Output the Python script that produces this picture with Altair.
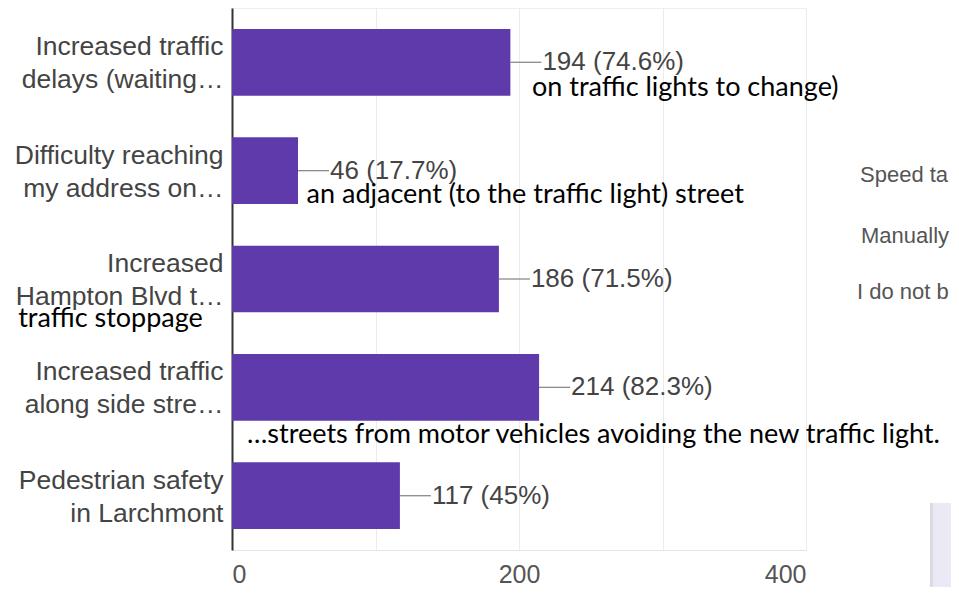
import altair as alt
import pandas as pd

# ---- data ----
categories = [
    "Increased traffic|delays (waiting…",
    "Difficulty reaching|my address on…",
    "Increased|Hampton Blvd t…",
    "Increased traffic|along side stre…",
    "Pedestrian safety|in Larchmont",
]
counts = [194, 46, 186, 214, 117]
percents = ["74.6%", "17.7%", "71.5%", "82.3%", "45%"]

# overlaid annotation texts (continuations of truncated labels)
notes = [
    "on traffic lights to change)",
    "an adjacent (to the traffic light) street",
    "traffic stoppage",
    "…streets from motor vehicles avoiding the new traffic light.",
]
note_rows = [0, 1, 2, 3]
note_x = [209, 52, -149, 10.5]
note_dy = [34, 32, 48, 56]

# fragments of a neighbouring chart cut by the picture edge
side_texts = ["Speed ta", "Manually", "I do not b"]
side_x = [628, 629, 625]
side_y = [174, 235, 291]

AXIS_MAX = 400
tick_values = [0, 100, 200, 300, 400]

BAR = "#5f3aab"
FONT = "Liberation Sans"
NOTE_FONT = "Lato"

df = pd.DataFrame({
    "cat": categories,
    "count": counts,
    "label": [f"{c} ({p})" for c, p in zip(counts, percents)],
})

y_enc = alt.Y(
    "cat:N",
    sort=categories,
    scale=alt.Scale(paddingInner=0.384, paddingOuter=0.193),
    axis=alt.Axis(
        title=None,
        labelExpr="split(datum.label, '|')",
        labelFont=FONT,
        labelFontSize=26.5,
        labelLineHeight=33,
        labelBaseline="middle",
        labelOffset=-15,
        labelColor="#444444",
        labelPadding=9,
        labelLimit=400,
        ticks=False,
        grid=False,
        domainColor="#333333",
        domainWidth=2,
    ),
)
x_enc = alt.X(
    "count:Q",
    scale=alt.Scale(domain=[0, AXIS_MAX], nice=False),
    axis=alt.Axis(
        title=None,
        values=tick_values,
        labelExpr="datum.value % 200 == 0 ? datum.label : ''",
        labelFont=FONT,
        labelFontSize=25,
        labelColor="#555555",
        labelPadding=12,
        ticks=False,
        domainColor="#e3e3e3",
        gridColor="#ebebeb",
    ),
)

base = alt.Chart(df)
bars = base.mark_bar(color=BAR).encode(x=x_enc, y=y_enc)
leaders = base.mark_rule(color="#8a8a8a", strokeWidth=1.3, x2Offset=31).encode(
    x="count:Q", x2="count:Q", y=alt.Y("cat:N", sort=categories)
)
values = base.mark_text(
    align="left", baseline="middle", dx=32, font=FONT, fontSize=26, color="#444444"
).encode(x="count:Q", y=alt.Y("cat:N", sort=categories), text="label:N")

layers = [bars, leaders, values]

for t, r, xv, dy in zip(notes, note_rows, note_x, note_dy):
    ndf = pd.DataFrame({"cat": [categories[r]], "x": [xv], "t": [t]})
    layers.append(
        alt.Chart(ndf).mark_text(
            align="left", baseline="alphabetic", dy=dy, font=NOTE_FONT,
            fontSize=27, color="#000000"
        ).encode(x="x:Q", y=alt.Y("cat:N", sort=categories), text="t:N")
    )

for t, xv, yv in zip(side_texts, side_x, side_y):
    sdf = pd.DataFrame({"t": [t]})
    layers.append(
        alt.Chart(sdf).mark_text(
            align="left", baseline="alphabetic", font=FONT, fontSize=22, color="#555555"
        ).encode(x=alt.value(xv), y=alt.value(yv), text="t:N")
    )

box_df = pd.DataFrame({"k": [1]})
layers.append(
    alt.Chart(box_df).mark_rect(color="#ece9f6").encode(
        x=alt.value(698), x2=alt.value(760), y=alt.value(495), y2=alt.value(600)
    )
)
layers.append(
    alt.Chart(box_df).mark_rect(color="#dcdae3").encode(
        x=alt.value(698), x2=alt.value(701), y=alt.value(495), y2=alt.value(600)
    )
)

chart = alt.layer(*layers).properties(
    width=574,
    height=542,
    autosize=alt.AutoSizeParams(type="none"),
    padding={"left": 224, "top": 0, "right": 145, "bottom": 37},
).configure_view(stroke="#eeeeee")

chart.save("out.html", embed_options={"renderer": "svg", "actions": False})
